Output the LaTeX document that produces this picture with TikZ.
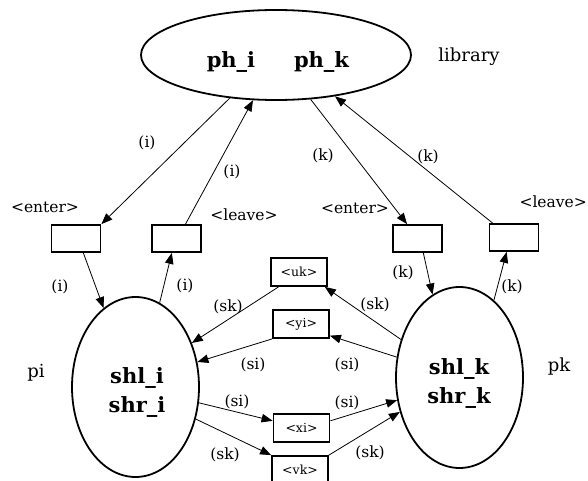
\documentclass[tikz,border=0pt]{standalone}
\usepackage{fontspec}
\setmainfont{DejaVu Serif}
\usetikzlibrary{shapes.geometric,arrows.meta}
\begin{document}
\begin{tikzpicture}[x=1pt,y=-1pt,
  oval/.style={draw, ellipse, line width=1.8pt, inner sep=0pt},
  port/.style={draw, rectangle, line width=1.8pt, minimum width=49pt, minimum height=27pt, inner sep=0pt},
  msg/.style={draw, rectangle, line width=1.8pt, minimum width=56pt, minimum height=28pt, inner sep=0pt, font=\fontsize{12.5}{14}\selectfont},
  lbl/.style={inner sep=0pt, font=\fontsize{15.5}{18}\selectfont},
  big/.style={inner sep=0pt, font=\fontsize{18}{22}\selectfont},
  heavy/.style={inner sep=0pt, align=center, font=\bfseries\fontsize{21}{29}\selectfont},
  link/.style={line width=0.8pt, -{Triangle[length=11pt,width=8.5pt]}}
]
\useasboundingbox (0,0) rectangle (588,481);

% shared library and the two processes
\node[oval, minimum width=270pt, minimum height=90pt] (lib) at (276,55) {};
\node[heavy] (phi) at (231,62) {ph\_i};
\node[heavy] (phk) at (321.5,62) {ph\_k};
\node[big] (libname) at (469,57) {library};

\node[oval, minimum width=127pt, minimum height=180pt] (ellI) at (135.5,387) {};
\node[heavy] (shi) at (137,392) {shl\_i\\shr\_i};
\node[big] (pi) at (36,373) {pi};

\node[oval, minimum width=127pt, minimum height=181pt] (ellK) at (459.5,377.5) {};
\node[heavy] (shk) at (459,383) {shl\_k\\shr\_k};
\node[big] (pk) at (559,367) {pk};

% enter / leave ports
\node[port] (entI) at (76,238.5) {};
\node[port] (leaI) at (176.5,238.5) {};
\node[port] (entK) at (417.5,238.5) {};
\node[port] (leaK) at (514,237.5) {};
\node[lbl] (entIt) at (45,207) {<enter>};
\node[lbl] (leaIt) at (244,215) {<leave>};
\node[lbl] (entKt) at (355,208) {<enter>};
\node[lbl, anchor=east] (leaKt) at (587,202) {<leave>};

% message boxes
\node[msg] (uk) at (299,272) {<uk>};
\node[msg] (yi) at (301,324) {<yi>};
\node[msg] (xi) at (301.5,428) {<xi>};
\node[msg] (vk) at (300,470) {<vk>};

% library <-> ports
\draw[link] (lib.223) -- (entI.north east);
\draw[link] (leaI.58) -- (lib.243);
\draw[link] (lib.308) -- (entK.126);
\draw[link] (leaK.146) -- (lib.325);
\node[lbl] (a1) at (147,143) {(i)};
\node[lbl] (a2) at (232,172) {(i)};
\node[lbl] (a3) at (323,156) {(k)};
\node[lbl] (a4) at (428,157) {(k)};

% ports <-> processes
\draw[link] (entI.297) -- (ellI.112);
\draw[link] (ellI.74) -- (leaI.252);
\draw[link] (entK.292) -- (ellK.108);
\draw[link] (ellK.66) -- (leaK.243);
\node[lbl] (b1) at (60,287) {(i)};
\node[lbl] (b2) at (185,286) {(i)};
\node[lbl] (b3) at (403,273) {(k)};
\node[lbl] (b4) at (512,287) {(k)};

% message exchange
\draw[link] (uk.216) -- (ellI.38);
\draw[link] (ellK.147) -- (uk.-30);
\draw[link] (yi.south west) -- (ellI.22);
\draw[link] (ellK.162) -- (yi.-22);
\draw[link] (ellI.-14) -- (xi.166);
\draw[link] (xi.14) -- (ellK.200);
\draw[link] (ellI.-28) -- (vk.north west);
\draw[link] (vk.north east) -- (ellK.210);
\node[lbl] (c1) at (228,307) {(sk)};
\node[lbl] (c2) at (375,305) {(sk)};
\node[lbl] (c3) at (253,365) {(si)};
\node[lbl] (c4) at (347,365) {(si)};
\node[lbl] (c5) at (237,402) {(si)};
\node[lbl] (c6) at (347,403) {(si)};
\node[lbl] (c7) at (225,455) {(sk)};
\node[lbl] (c8) at (370,453) {(sk)};
\end{tikzpicture}
\end{document}
